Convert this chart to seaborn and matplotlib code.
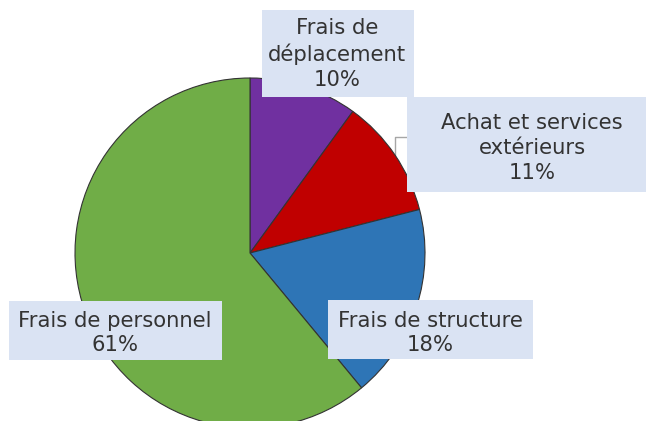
import matplotlib
matplotlib.use("Agg")
import matplotlib.pyplot as plt
from matplotlib.patches import Rectangle
import seaborn as sns

# données du graphique (répartition des charges)
categories = ["Frais de déplacement", "Achat et services extérieurs",
              "Frais de structure", "Frais de personnel"]
parts = [10, 11, 18, 61]
label_texts = ["Frais de\ndéplacement", "Achat et services\nextérieurs",
               "Frais de structure", "Frais de personnel"]
couleurs = ["#7030A0", "#C00000", "#2E75B6", "#70AD47"]

sns.set_theme(style="white")
plt.rcParams['font.family'] = ['DejaVu Sans']

W, H = 649, 421
fig = plt.figure(figsize=(W / 100, H / 100), dpi=100)
ax = fig.add_axes([0, 0, 1, 1])

ax.pie(parts, colors=couleurs, startangle=90, counterclock=False,
       center=(250, 168), radius=175,
       wedgeprops=dict(edgecolor="#333333", linewidth=0.8, zorder=2))

# repère en pixels (pie() réinitialise les limites)
ax.set_xlim(0, W)
ax.set_ylim(0, H)
ax.set_aspect("equal")
ax.axis("off")

# petit trait de rappel vers l'étiquette "Achat" (passe sous le camembert)
ax.plot([395, 395, 408], [244, 284, 284], color="#A6A6A6", lw=1, zorder=1)

# cadres des étiquettes : (x, y, largeur, hauteur) en pixels, origine en bas
cadres = [(262, 324, 152, 87), (407, 229, 239, 95),
          (328, 62, 205, 59), (9, 61, 213, 59)]
centres = [(337, 367), (532, 273), (430, 88), (115, 88)]

for txt, val, (bx, by, bw, bh), (x, y) in zip(label_texts, parts, cadres, centres):
    ax.add_patch(Rectangle((bx, by), bw, bh, facecolor="#DAE3F3",
                           edgecolor="none", zorder=3))
    ax.text(x, y, f"{txt}\n{val}%", ha="center", va="center",
            fontsize=15.2, color="#333333", linespacing=1.3, zorder=4)

fig.savefig("out.png", dpi=100)
